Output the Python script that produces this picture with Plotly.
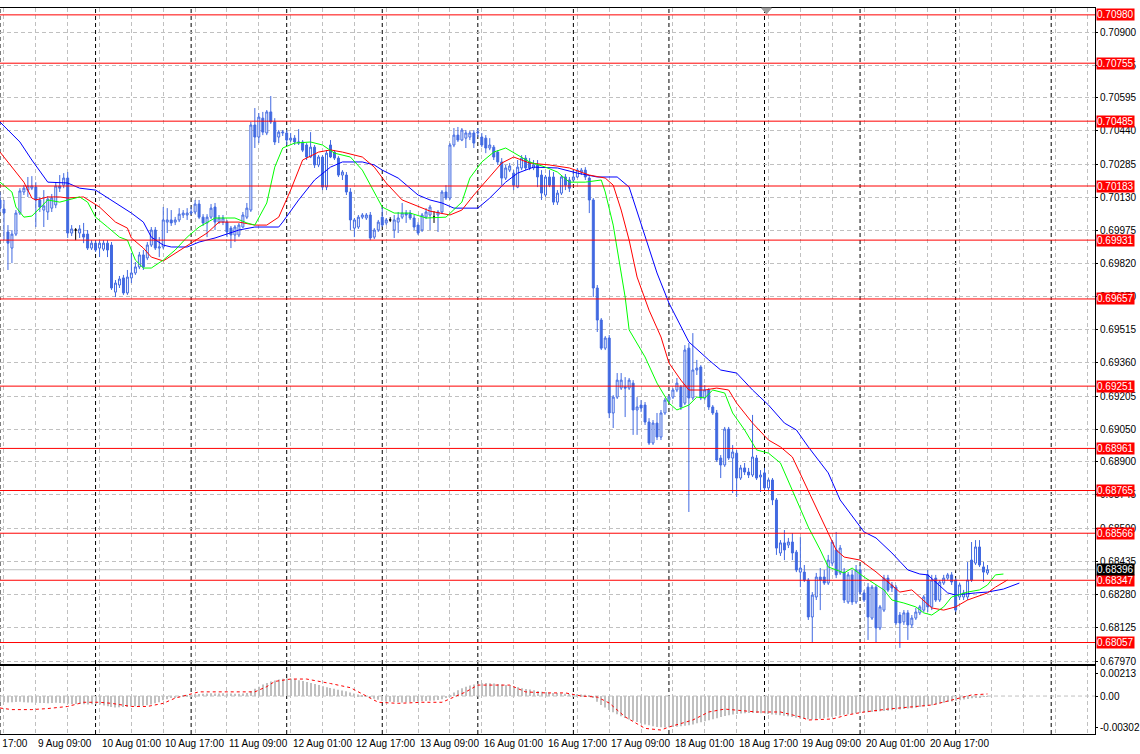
import plotly.graph_objects as go

# ---------------- data (H1 bars, index 0 = 9 Aug 00:00) ----------------
OPEN = [
0.70118,0.70076,0.69969,0.69894,0.69959,0.70057,0.70155,0.70164,0.70173,0.70178,
0.70118,0.70071,0.70062,0.70080,0.70095,0.70183,0.70187,0.70220,0.69964,0.69978,
0.69964,0.69959,0.69959,0.69894,0.69917,0.69894,0.69889,0.69917,0.69908,0.69689,
0.69722,0.69755,0.69685,0.69755,0.69778,0.69806,0.69862,0.69848,0.69908,0.69978,
0.69894,0.69899,0.70015,0.70025,0.70015,0.70025,0.70048,0.70048,0.70057,0.70062,
0.70099,0.70038,0.70011,0.70038,0.70085,0.70015,0.70015,0.70015,0.69987,0.69955,
0.69955,0.69992,0.70038,0.70071,0.70467,0.70411,0.70499,0.70430,0.70528,0.70481,
0.70411,0.70430,0.70430,0.70397,0.70406,0.70383,0.70388,0.70374,0.70318,0.70364,
0.70281,0.70318,0.70178,0.70374,0.70341,0.70313,0.70234,0.70234,0.70155,0.69987,
0.69992,0.70038,0.70034,0.70048,0.69945,0.69978,0.70038,0.70011,0.70025,0.69978,
0.70015,0.70038,0.70057,0.70057,0.70034,0.70001,0.69978,0.70038,0.70048,0.70038,
0.70048,0.70062,0.70155,0.70127,0.70374,0.70420,0.70397,0.70406,0.70411,0.70430,
0.70430,0.70411,0.70406,0.70360,0.70364,0.70341,0.70295,0.70220,0.70257,0.70243,
0.70178,0.70267,0.70313,0.70295,0.70267,0.70281,0.70234,0.70141,0.70225,0.70225,
0.70108,0.70150,0.70225,0.70211,0.70211,0.70225,0.70248,0.70257,0.70220,0.70118,
0.69708,0.69559,0.69428,0.69475,0.69126,0.69200,0.69242,0.69247,0.69242,0.69265,
0.69140,0.69163,0.69163,0.69084,0.68986,0.69079,0.69014,0.69126,0.69186,0.69200,
0.69233,0.69247,0.69172,0.69428,0.69196,0.69326,0.69340,0.69196,0.69233,0.69154,
0.69126,0.68916,0.68884,0.69051,0.68916,0.68939,0.68823,0.68870,0.68851,0.68837,
0.68916,0.68828,0.68847,0.68777,0.68814,0.68721,0.68474,0.68521,0.68511,0.68525,
0.68478,0.68385,0.68385,0.68348,0.68176,0.68269,0.68362,0.68362,0.68334,0.68427,
0.68488,0.68381,0.68385,0.68246,0.68372,0.68246,0.68395,0.68288,0.68315,0.68171,
0.68315,0.68125,0.68208,0.68357,0.68325,0.68315,0.68185,0.68153,0.68195,0.68139,
0.68171,0.68195,0.68208,0.68372,0.68223,0.68357,0.68255,0.68334,0.68357,0.68372,
0.68348,0.68269,0.68269,0.68269,0.68441,0.68427,0.68502,0.68409,0.68381]

HIGH = [
0.70155,0.70118,0.70001,0.69978,0.70071,0.70173,0.70187,0.70225,0.70229,0.70201,
0.70132,0.70164,0.70136,0.70146,0.70201,0.70234,0.70243,0.70248,0.70001,0.69987,
0.70001,0.70011,0.69978,0.69931,0.69931,0.69931,0.69931,0.69931,0.69922,0.69745,
0.69764,0.69769,0.69792,0.69871,0.69829,0.69876,0.69885,0.69922,0.69992,0.69992,
0.69945,0.70085,0.70080,0.70071,0.70039,0.70080,0.70071,0.70080,0.70085,0.70118,
0.70118,0.70052,0.70052,0.70099,0.70104,0.70048,0.70048,0.70025,0.69997,0.70001,
0.70011,0.70062,0.70104,0.70481,0.70546,0.70523,0.70528,0.70537,0.70602,0.70499,
0.70444,0.70444,0.70444,0.70430,0.70420,0.70448,0.70397,0.70383,0.70434,0.70374,
0.70327,0.70327,0.70350,0.70397,0.70350,0.70322,0.70257,0.70248,0.70173,0.70034,
0.70048,0.70057,0.70057,0.70062,0.69987,0.70025,0.70085,0.70034,0.70038,0.70048,
0.70062,0.70104,0.70071,0.70071,0.70048,0.70015,0.70057,0.70080,0.70095,0.70066,
0.70071,0.70164,0.70187,0.70383,0.70453,0.70458,0.70453,0.70444,0.70439,0.70444,
0.70453,0.70430,0.70420,0.70406,0.70374,0.70350,0.70313,0.70281,0.70290,0.70257,
0.70304,0.70327,0.70327,0.70313,0.70304,0.70304,0.70257,0.70234,0.70257,0.70248,
0.70164,0.70234,0.70239,0.70225,0.70257,0.70267,0.70267,0.70271,0.70229,0.70127,
0.69722,0.69568,0.69484,0.69489,0.69209,0.69312,0.69312,0.69293,0.69289,0.69279,
0.69200,0.69186,0.69177,0.69102,0.69093,0.69126,0.69140,0.69196,0.69209,0.69242,
0.69289,0.69256,0.69442,0.69452,0.69498,0.69373,0.69349,0.69256,0.69242,0.69163,
0.69140,0.68930,0.69061,0.69061,0.68977,0.68953,0.68884,0.68893,0.68870,0.69117,
0.68930,0.68860,0.68870,0.68823,0.68823,0.68730,0.68534,0.68581,0.68544,0.68567,
0.68488,0.68548,0.68418,0.68357,0.68292,0.68381,0.68404,0.68395,0.68465,0.68534,
0.68572,0.68511,0.68404,0.68385,0.68395,0.68418,0.68418,0.68301,0.68334,0.68325,
0.68325,0.68232,0.68372,0.68372,0.68339,0.68325,0.68199,0.68208,0.68208,0.68185,
0.68218,0.68232,0.68278,0.68395,0.68372,0.68372,0.68348,0.68372,0.68381,0.68385,
0.68357,0.68334,0.68302,0.68432,0.68525,0.68534,0.68534,0.68432,0.68418]

LOW = [
0.70062,0.69931,0.69792,0.69824,0.69950,0.70048,0.70141,0.70132,0.70164,0.69992,
0.70062,0.69992,0.70025,0.70062,0.70080,0.70155,0.70173,0.69941,0.69950,0.69931,
0.69941,0.69917,0.69885,0.69885,0.69876,0.69852,0.69880,0.69852,0.69699,0.69666,
0.69708,0.69676,0.69676,0.69731,0.69769,0.69796,0.69792,0.69838,0.69899,0.69885,
0.69852,0.69889,0.69964,0.69997,0.70001,0.70015,0.70034,0.70025,0.70048,0.70052,
0.70029,0.69997,0.69945,0.70029,0.69978,0.70006,0.70001,0.69945,0.69894,0.69922,
0.69945,0.69987,0.70029,0.70062,0.70360,0.70383,0.70420,0.70420,0.70472,0.70374,
0.70383,0.70416,0.70374,0.70388,0.70374,0.70374,0.70341,0.70304,0.70313,0.70267,
0.70271,0.70164,0.70164,0.70313,0.70304,0.70225,0.70211,0.70141,0.69978,0.69945,
0.69983,0.70029,0.70025,0.69931,0.69936,0.69969,0.69992,0.70001,0.70015,0.69941,
0.69964,0.70029,0.70011,0.70025,0.69978,0.69955,0.69969,0.70029,0.69978,0.70011,
0.69969,0.70052,0.70118,0.70118,0.70364,0.70388,0.70392,0.70360,0.70397,0.70360,
0.70411,0.70364,0.70336,0.70350,0.70304,0.70281,0.70187,0.70211,0.70248,0.70164,
0.70173,0.70257,0.70257,0.70257,0.70257,0.70178,0.70118,0.70132,0.70178,0.70095,
0.70095,0.70141,0.70164,0.70155,0.70201,0.70220,0.70234,0.70211,0.70057,0.69666,
0.69503,0.69419,0.69419,0.69102,0.69056,0.69191,0.69233,0.69107,0.69233,0.69024,
0.69024,0.69130,0.69070,0.68977,0.68977,0.69000,0.69000,0.69117,0.69177,0.69191,
0.69223,0.69140,0.69163,0.68665,0.69186,0.69303,0.69186,0.69186,0.69140,0.69117,
0.68898,0.68823,0.68875,0.68907,0.68753,0.68735,0.68814,0.68837,0.68823,0.68828,
0.68814,0.68758,0.68767,0.68767,0.68697,0.68465,0.68460,0.68441,0.68497,0.68441,
0.68385,0.68315,0.68339,0.68162,0.68059,0.68255,0.68208,0.68325,0.68325,0.68413,
0.68357,0.68372,0.68241,0.68237,0.68232,0.68237,0.68278,0.68246,0.68069,0.68162,
0.68055,0.68115,0.68199,0.68292,0.68292,0.68139,0.68032,0.68139,0.68069,0.68125,
0.68162,0.68185,0.68199,0.68199,0.68208,0.68246,0.68246,0.68325,0.68348,0.68325,
0.68199,0.68255,0.68255,0.68255,0.68339,0.68418,0.68409,0.68339,0.68372]

CLOSE = [
0.70080,0.70057,0.69917,0.69959,0.70057,0.70160,0.70173,0.70183,0.70183,0.70118,
0.70085,0.70090,0.70122,0.70127,0.70183,0.70173,0.70220,0.69964,0.69983,0.69978,
0.69983,0.69945,0.69894,0.69917,0.69885,0.69917,0.69917,0.69885,0.69708,0.69731,
0.69750,0.69685,0.69759,0.69778,0.69806,0.69862,0.69806,0.69908,0.69978,0.69894,
0.69899,0.70025,0.70025,0.70011,0.70025,0.70052,0.70057,0.70057,0.70062,0.70099,
0.70038,0.70011,0.70038,0.70080,0.70015,0.70034,0.70034,0.69969,0.69955,0.69992,
0.70001,0.70048,0.70080,0.70467,0.70411,0.70504,0.70434,0.70528,0.70481,0.70388,
0.70434,0.70434,0.70397,0.70406,0.70388,0.70388,0.70350,0.70318,0.70364,0.70281,
0.70318,0.70178,0.70336,0.70318,0.70313,0.70234,0.70248,0.70155,0.70025,0.70025,
0.70038,0.70048,0.70048,0.69941,0.69978,0.70015,0.70001,0.70025,0.70025,0.70025,
0.70034,0.70057,0.70048,0.70034,0.69992,0.69964,0.70048,0.70062,0.70085,0.70038,
0.70062,0.70155,0.70127,0.70374,0.70420,0.70397,0.70444,0.70430,0.70430,0.70383,
0.70434,0.70374,0.70360,0.70374,0.70318,0.70295,0.70220,0.70267,0.70276,0.70187,
0.70271,0.70313,0.70267,0.70267,0.70281,0.70225,0.70150,0.70225,0.70187,0.70108,
0.70150,0.70225,0.70187,0.70173,0.70225,0.70257,0.70257,0.70225,0.70118,0.69708,
0.69559,0.69428,0.69475,0.69126,0.69200,0.69279,0.69279,0.69242,0.69279,0.69140,
0.69154,0.69149,0.69084,0.68986,0.69079,0.69014,0.69126,0.69186,0.69200,0.69233,
0.69265,0.69154,0.69419,0.69196,0.69326,0.69335,0.69196,0.69233,0.69154,0.69126,
0.68907,0.68884,0.69051,0.68916,0.68944,0.68823,0.68870,0.68851,0.68837,0.68921,
0.68823,0.68837,0.68777,0.68814,0.68721,0.68497,0.68521,0.68488,0.68525,0.68474,
0.68395,0.68404,0.68348,0.68176,0.68278,0.68362,0.68348,0.68334,0.68441,0.68525,
0.68372,0.68497,0.68255,0.68372,0.68246,0.68395,0.68292,0.68255,0.68176,0.68315,
0.68125,0.68223,0.68357,0.68301,0.68311,0.68148,0.68148,0.68195,0.68139,0.68171,
0.68199,0.68223,0.68269,0.68223,0.68348,0.68255,0.68339,0.68357,0.68372,0.68339,
0.68208,0.68325,0.68288,0.68348,0.68348,0.68502,0.68418,0.68385,0.68396]

# Alligator lines (bar index, value)
JAW_IDX = [0,5,8,11,12,17,20,24,27,33,36,38,41,43,47,50,54,60,64,70,71,75,79,83,86,91,94,96,100,103,
           105,108,111,114,120,123,127,130,134,140,145,150,155,158,162,165,168,173,178,181,185,189,193,197,200,
           203,208,211,217,220,224,228,231,233,238,240,245,248,252,256]
JAW_VAL = [0.70481,0.70388,0.70304,0.70225,0.70201,0.70197,0.70173,0.70164,0.70127,0.70057,
           0.70015,0.69945,0.69908,0.69899,0.69899,0.69922,0.69941,0.69978,0.69992,0.69992,
           0.70015,0.70118,0.70211,0.70271,0.70295,0.70295,0.70281,0.70257,0.70220,0.70173,
           0.70141,0.70118,0.70104,0.70080,0.70080,0.70127,0.70201,0.70243,0.70271,0.70267,
           0.70243,0.70225,0.70225,0.70178,0.69945,0.69778,0.69638,0.69457,0.69373,0.69326,
           0.69312,0.69233,0.69163,0.69079,0.69047,0.68968,0.68847,0.68721,0.68572,0.68544,
           0.68474,0.68395,0.68376,0.68372,0.68288,0.68278,0.68288,0.68292,0.68306,0.68334]

TEETH_IDX = [0,3,6,8,9,12,15,17,21,25,29,32,33,36,38,41,44,48,52,55,60,64,67,70,73,76,80,83,86,91,
             94,97,101,106,108,113,116,119,123,126,129,133,138,143,148,152,154,156,158,160,163,166,168,171,173,
             177,180,183,185,189,193,196,199,204,208,210,212,216,220,224,226,229,231,234,237,240,243,248,250,253]
TEETH_VAL = [0.70341,0.70271,0.70201,0.70127,0.70118,0.70132,0.70132,0.70127,0.70132,0.70085,
             0.70015,0.69987,0.69941,0.69894,0.69852,0.69834,0.69871,0.69917,0.69964,0.70015,
             0.70015,0.70001,0.70001,0.70038,0.70164,0.70304,0.70341,0.70351,0.70341,0.70318,
             0.70271,0.70197,0.70118,0.70080,0.70066,0.70048,0.70071,0.70141,0.70225,0.70290,
             0.70318,0.70290,0.70281,0.70267,0.70234,0.70220,0.70187,0.70071,0.69931,0.69759,
             0.69605,0.69480,0.69359,0.69279,0.69233,0.69233,0.69242,0.69233,0.69172,0.69079,
             0.69000,0.68968,0.68921,0.68721,0.68567,0.68488,0.68455,0.68441,0.68386,0.68325,
             0.68292,0.68302,0.68269,0.68218,0.68208,0.68223,0.68255,0.68288,0.68315,0.68348]

LIPS_IDX = [0,3,4,6,8,10,12,15,17,20,22,24,27,30,32,34,36,38,41,44,47,50,54,59,62,64,67,69,71,74,
            78,81,84,88,91,94,96,99,103,107,112,116,118,121,124,127,130,133,137,140,143,147,151,152,154,
            155,157,158,162,165,168,170,173,175,177,179,182,184,187,190,193,196,200,203,206,208,212,214,217,219,
            222,224,227,230,232,234,237,239,243,246,248,250,252]
LIPS_VAL = [0.70201,0.70155,0.70085,0.70038,0.70043,0.70080,0.70118,0.70108,0.70118,0.70132,
            0.70108,0.70038,0.69992,0.69945,0.69931,0.69838,0.69801,0.69801,0.69838,0.69885,
            0.69945,0.69992,0.70034,0.70034,0.70011,0.70001,0.70104,0.70271,0.70360,0.70383,
            0.70388,0.70374,0.70336,0.70318,0.70257,0.70150,0.70085,0.70057,0.70057,0.70034,
            0.70038,0.70108,0.70220,0.70295,0.70341,0.70360,0.70327,0.70295,0.70271,0.70248,
            0.70201,0.70201,0.70211,0.70155,0.70001,0.69885,0.69666,0.69513,0.69387,0.69265,
            0.69172,0.69140,0.69163,0.69200,0.69196,0.69233,0.69219,0.69126,0.69047,0.68954,
            0.68939,0.68893,0.68721,0.68595,0.68488,0.68409,0.68381,0.68404,0.68362,0.68339,
            0.68302,0.68255,0.68241,0.68223,0.68195,0.68185,0.68223,0.68269,0.68292,0.68302,
            0.68325,0.68372,0.68376]

# MACD panel: histogram per bar, signal line (bar index, value)
MACD_HIST = [
-0.00055,-0.00058,-0.00062,-0.00060,-0.00058,-0.00055,-0.00060,-0.00062,-0.00063,
-0.00065,-0.00067,-0.00066,-0.00068,-0.00067,-0.00064,-0.00066,-0.00070,
-0.00075,-0.00078,-0.00077,-0.00076,-0.00078,-0.00080,-0.00079,-0.00078,-0.00080,
-0.00090,-0.00098,-0.00105,-0.00110,-0.00108,-0.00106,-0.00104,-0.00100,-0.00098,-0.00095,-0.00092,-0.00088,
-0.00080,-0.00070,-0.00060,
-0.00040,-0.00030,-0.00020,-0.00012,-0.00005,0.00002,0.00008,
0.00012,0.00016,0.00020,0.00022,0.00024,0.00026,0.00025,0.00024,0.00026,0.00025,0.00024,0.00022,0.00022,0.00024,0.00028,0.00045,
0.00070,0.00090,0.00110,0.00125,0.00140,0.00150,0.00158,
0.00165,0.00168,0.00166,0.00160,0.00152,0.00145,
0.00135,0.00125,0.00115,0.00105,0.00095,0.00085,0.00078,0.00070,
0.00060,0.00052,0.00045,0.00035,0.00025,0.00015,0.00005,-0.00005,-0.00015,-0.00025,-0.00035,
-0.00045,-0.00052,-0.00055,-0.00058,-0.00060,-0.00062,-0.00060,-0.00058,-0.00055,-0.00052,-0.00050,-0.00048,-0.00045,-0.00042,-0.00038,-0.00030,-0.00018,
0.00010,0.00035,0.00055,0.00075,0.00090,0.00100,0.00110,
0.00118,0.00122,0.00125,0.00123,0.00120,0.00115,0.00110,0.00105,0.00100,0.00092,
0.00085,0.00075,0.00068,0.00062,0.00055,0.00048,0.00042,0.00038,0.00032,0.00030,0.00028,0.00025,
0.00022,0.00020,0.00018,0.00016,0.00015,0.00012,0.00008,
-0.00020,-0.00055,-0.00085,-0.00110,-0.00135,-0.00155,-0.00175,-0.00195,-0.00210,-0.00225,-0.00238,-0.00250,-0.00262,-0.00272,-0.00280,
-0.00290,-0.00296,-0.00300,-0.00302,-0.00300,-0.00298,-0.00295,
-0.00290,-0.00285,-0.00280,-0.00272,-0.00262,-0.00252,-0.00242,-0.00232,-0.00222,-0.00212,-0.00202,-0.00192,
-0.00185,-0.00178,-0.00172,-0.00168,-0.00165,-0.00163,-0.00162,-0.00163,-0.00165,-0.00168,
-0.00172,-0.00176,-0.00180,-0.00185,-0.00190,-0.00195,-0.00200,-0.00208,-0.00215,-0.00220,-0.00223,
-0.00224,-0.00222,-0.00218,-0.00212,-0.00205,-0.00198,-0.00192,-0.00186,-0.00180,-0.00175,-0.00170,-0.00166,
-0.00162,-0.00158,-0.00155,-0.00152,-0.00150,-0.00147,-0.00144,-0.00140,-0.00136,-0.00132,-0.00128,-0.00124,-0.00120,-0.00116,-0.00112,
-0.00106,-0.00100,-0.00094,-0.00088,-0.00080,-0.00072,-0.00065,-0.00058,-0.00052,-0.00046,-0.00040,-0.00034,-0.00028,-0.00022,-0.00017,-0.00012,-0.00008,-0.00005]

SIG_IDX = [0,3,8,12,17,21,25,28,33,37,41,44,48,50,64,67,69,73,77,79,83,88,92,95,100,106,111,114,117,120,
           128,132,137,142,146,150,153,157,162,166,168,174,178,182,187,190,196,201,203,209,213,217,223,229,234,
           237,240,244,248]
SIG_VAL = [-0.00115,-0.00130,-0.00130,-0.00120,-0.00100,-0.00060,-0.00060,-0.00070,-0.00100,-0.00100,
           -0.00070,-0.00020,0.00020,0.00040,0.00040,0.00090,0.00140,0.00163,0.00163,0.00150,
           0.00120,0.00080,0.00000,-0.00060,-0.00070,-0.00060,-0.00060,-0.00010,0.00040,0.00105,
           0.00105,0.00040,0.00030,0.00030,0.00000,-0.00010,-0.00067,-0.00200,-0.00310,-0.00326,
           -0.00297,-0.00230,-0.00153,-0.00125,-0.00144,-0.00153,-0.00153,-0.00200,-0.00230,-0.00220,
           -0.00180,-0.00153,-0.00125,-0.00105,-0.00086,-0.00058,-0.00030,0.00010,0.00020]

LEVELS = [0.70980, 0.70755, 0.70485, 0.70183, 0.69931, 0.69657,
          0.69251, 0.68961, 0.68765, 0.68566, 0.68347, 0.68057]
CURRENT = 0.68396

PRICE_TICKS = [0.70900, 0.70745, 0.70595, 0.70440, 0.70285, 0.70130, 0.69975, 0.69820,
               0.69670, 0.69515, 0.69360, 0.69205, 0.69050, 0.68900, 0.68745, 0.68590,
               0.68435, 0.68280, 0.68125, 0.67970]
MACD_TICKS = [0.00213, 0.0, -0.00302]
MACD_TICKTEXT = ["0.00213", "0.00", "-0.00302"]

TIME_LABELS = ["6 Aug 17:00", "9 Aug 09:00", "10 Aug 01:00", "10 Aug 17:00", "11 Aug 09:00",
               "12 Aug 01:00", "12 Aug 17:00", "13 Aug 09:00", "16 Aug 01:00", "16 Aug 17:00",
               "17 Aug 09:00", "18 Aug 01:00", "18 Aug 17:00", "19 Aug 09:00", "20 Aug 01:00",
               "20 Aug 17:00"]
TIME_LABEL_IDX = [-7, 9, 25, 41, 57, 73, 89, 105, 121, 137, 153, 169, 185, 201, 217, 233]
DAY_START_IDX = [0, 24, 48, 72, 96, 120, 144, 168, 192, 216, 240, 264]

# ---------------- style ----------------
BLUE = "#4169E1"
GRID = "#C0C0C0"
FONT = "Liberation Sans"
FS = 10
XMAX = 275
X_RANGE = [0, XMAX]
Y_RANGE = [0.67957, 0.71012]
Y2_RANGE = [-0.00364, 0.00288]
PLOT_W, PLOT_H = 1100, 726

n = len(CLOSE)
idx = list(range(n))
doji = [i for i in idx if OPEN[i] == CLOSE[i]]
norm = [i for i in idx if OPEN[i] != CLOSE[i]]

fig = go.Figure()

fig.add_trace(go.Candlestick(
    x=norm, open=[OPEN[i] for i in norm], high=[HIGH[i] for i in norm],
    low=[LOW[i] for i in norm], close=[CLOSE[i] for i in norm],
    increasing=dict(line=dict(color=BLUE, width=1), fillcolor="white"),
    decreasing=dict(line=dict(color=BLUE, width=1), fillcolor=BLUE),
    whiskerwidth=0, xaxis="x", yaxis="y", hoverinfo="skip"))
fig.add_trace(go.Candlestick(
    x=doji, open=[OPEN[i] for i in doji], high=[HIGH[i] for i in doji],
    low=[LOW[i] for i in doji], close=[CLOSE[i] for i in doji],
    increasing=dict(line=dict(color="black", width=1), fillcolor="black"),
    decreasing=dict(line=dict(color="black", width=1), fillcolor="black"),
    whiskerwidth=0, xaxis="x", yaxis="y", hoverinfo="skip"))

for xs, ys, col in [(JAW_IDX, JAW_VAL, "#0000FF"), (TEETH_IDX, TEETH_VAL, "#FF0000"),
                    (LIPS_IDX, LIPS_VAL, "#00FF00")]:
    fig.add_trace(go.Scatter(x=xs, y=ys, mode="lines", line=dict(color=col, width=1),
                             xaxis="x", yaxis="y", hoverinfo="skip"))

fig.add_trace(go.Bar(x=list(range(len(MACD_HIST))), y=MACD_HIST, width=0.25,
                     marker=dict(color=GRID, line=dict(width=0)),
                     xaxis="x2", yaxis="y2", hoverinfo="skip"))
fig.add_trace(go.Scatter(x=SIG_IDX, y=SIG_VAL, mode="lines",
                         line=dict(color="#FF0000", width=1, dash="dot"),
                         xaxis="x2", yaxis="y2", hoverinfo="skip"))

shapes = []
for d in DAY_START_IDX:
    shapes.append(dict(type="line", xref="x", yref="paper", x0=d, x1=d, y0=0, y1=1,
                       line=dict(color="black", width=1, dash="4px,3px"), layer="below"))
shapes.append(dict(type="line", xref="x2", yref="y2", x0=0, x1=XMAX, y0=0, y1=0,
                   line=dict(color=GRID, width=1, dash="4px,3px"), layer="below"))
shapes.append(dict(type="line", xref="x", yref="y", x0=0, x1=XMAX, y0=CURRENT, y1=CURRENT,
                   line=dict(color=GRID, width=1), layer="below"))
for lv in LEVELS:
    shapes.append(dict(type="line", xref="x", yref="y", x0=0, x1=XMAX, y0=lv, y1=lv,
                       line=dict(color="#FF0000", width=1), layer="above"))
shapes.append(dict(type="path", xref="paper", yref="paper",
                   path="M 0.6955,1 L 0.7045,1 L 0.7,0.9918 Z",
                   fillcolor="#A0A0A0", line=dict(color="#A0A0A0", width=1)))

annotations = []
for lv in LEVELS:
    annotations.append(dict(xref="paper", yref="y", x=1, y=lv, xanchor="left", yanchor="middle",
                            xshift=1, text="%.5f" % lv, showarrow=False, bgcolor="#FF0000",
                            borderpad=0, font=dict(family=FONT, size=FS, color="white")))
annotations.append(dict(xref="paper", yref="y", x=1, y=CURRENT, xanchor="left", yanchor="middle",
                        xshift=1, text="%.5f" % CURRENT, showarrow=False, bgcolor="black",
                        borderpad=0, font=dict(family=FONT, size=FS, color="white")))
for lab, i in zip(TIME_LABELS, TIME_LABEL_IDX):
    annotations.append(dict(xref="paper", yref="paper", x=i / XMAX, y=-9 / PLOT_H,
                            xanchor="left", yanchor="middle", text=lab, showarrow=False,
                            font=dict(family=FONT, size=FS, color="black")))

grid_x = list(range(1, XMAX, 8))
xcommon = dict(range=X_RANGE, tickvals=grid_x, showticklabels=False, ticks="",
               showgrid=True, gridcolor=GRID, gridwidth=1, griddash="4px,3px",
               showline=True, linecolor="black", linewidth=1, mirror=True,
               zeroline=False, fixedrange=True)

main_bottom = (734 - 664) / PLOT_H
ind_top = (734 - 666) / PLOT_H

fig.update_layout(
    width=1140, height=754,
    margin=dict(l=0, r=40, t=8, b=20),
    paper_bgcolor="white", plot_bgcolor="white",
    showlegend=False, hovermode=False, boxgap=0.3,
    font=dict(family=FONT, size=FS, color="black"),
    xaxis=dict(domain=[0, 1], anchor="y", rangeslider=dict(visible=False), **xcommon),
    xaxis2=dict(domain=[0, 1], anchor="y2", **xcommon),
    yaxis=dict(domain=[main_bottom, 1], range=Y_RANGE, side="right", anchor="x",
               tickvals=PRICE_TICKS, ticktext=["%.5f" % v for v in PRICE_TICKS],
               tickfont=dict(family=FONT, size=FS, color="black"),
               ticks="outside", ticklen=2, tickcolor="black",
               showgrid=True, gridcolor=GRID, gridwidth=1, griddash="4px,3px",
               showline=True, linecolor="black", linewidth=1, zeroline=False, fixedrange=True),
    yaxis2=dict(domain=[0, ind_top], range=Y2_RANGE, side="right", anchor="x2",
                tickvals=MACD_TICKS, ticktext=MACD_TICKTEXT,
                tickfont=dict(family=FONT, size=FS, color="black"),
                ticks="outside", ticklen=2, tickcolor="black", showgrid=False,
                showline=True, linecolor="black", linewidth=1, zeroline=False, fixedrange=True),
    shapes=shapes, annotations=annotations,
)

fig.write_html("out.html", config={"displayModeBar": False},
               post_script="document.body.style.margin='0';document.body.style.overflow='hidden';")
